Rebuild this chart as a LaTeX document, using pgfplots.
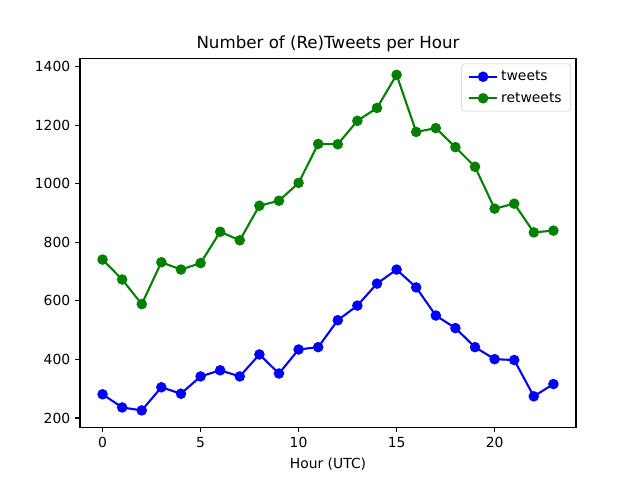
\documentclass[border=0pt]{standalone}
\usepackage{pgfplots}
\pgfplotsset{compat=1.18}
\usepackage{fontspec}
\setmainfont{DejaVu Sans}
\definecolor{mplgreen}{rgb}{0,0.5,0}
\begin{document}
\begin{tikzpicture}
\begin{axis}[
  name=ax,
  scale only axis,
  width=357pt, height=265.7pt,
  xmin=-1.15, xmax=24.15,
  ymin=168.7, ymax=1429.3,
  xtick={0,5,10,15,20},
  ytick={200,400,600,800,1000,1200,1400},
  tick align=outside,
  major tick length=3.5pt,
  tick style={black, line width=0.8pt},
  xtick pos=bottom, ytick pos=left,
  axis line style={line width=0.8pt},
  /pgf/number format/assume math mode=true,
  /pgf/number format/1000 sep={},
  tick label style={font=\fontsize{10}{12}\selectfont},
  xlabel={Hour (UTC)},
  xlabel style={font=\fontsize{10}{12}\selectfont, yshift=-1pt},
  title={Number of (Re)Tweets per Hour},
  title style={font=\fontsize{12}{14}\selectfont, yshift=-5.5pt},
  legend style={font=\fontsize{10}{12}\selectfont, draw=black!20, rounded corners=2pt, at={(0.99,0.985)}, anchor=north east, row sep=3pt, inner xsep=4.5pt, inner ysep=3pt, nodes={inner sep=2pt}},
  legend cell align=left,
  legend image code/.code={\draw[#1] (0cm,0cm) -- (0.72cm,0cm); \draw[#1, mark repeat=2, mark phase=2] plot coordinates {(0cm,0cm) (0.36cm,0cm) (0.72cm,0cm)};},
]
\addplot[blue, line width=1.5pt, mark=*, mark size=3pt, mark options={solid}] coordinates {
(0,281) (1,236) (2,226) (3,305) (4,283) (5,342) (6,363) (7,342) (8,417) (9,352) (10,434) (11,442)
(12,534) (13,584) (14,659) (15,707) (16,646) (17,550) (18,507) (19,442) (20,401) (21,398) (22,274) (23,316)};
\addlegendentry{tweets}
\addplot[mplgreen, line width=1.5pt, mark=*, mark size=3pt, mark options={solid}] coordinates {
(0,741) (1,673) (2,589) (3,732) (4,707) (5,729) (6,836) (7,807) (8,925) (9,942) (10,1003) (11,1136)
(12,1135) (13,1215) (14,1259) (15,1372) (16,1177) (17,1190) (18,1125) (19,1058) (20,915) (21,932) (22,834) (23,840)};
\addlegendentry{retweets}
\end{axis}
\pgfresetboundingbox
\path ([shift={(-57.6pt,-38.2pt)}]ax.south west) rectangle ([shift={(46.1pt,41.8pt)}]ax.north east);
\end{tikzpicture}
\end{document}
